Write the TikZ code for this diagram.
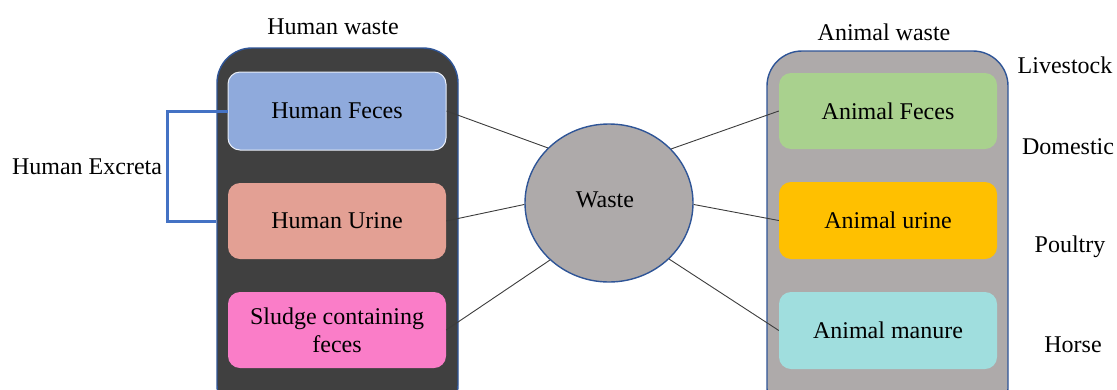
\documentclass[tikz,border=0pt]{standalone}
\usepackage{fontspec}
\setmainfont{Liberation Serif}
\usetikzlibrary{shapes.geometric}

\definecolor{frameblue}{RGB}{47,85,151}
\definecolor{bracketblue}{RGB}{68,114,196}
\definecolor{darkpanel}{RGB}{64,64,64}
\definecolor{greypanel}{RGB}{174,170,170}
\definecolor{feceblue}{RGB}{143,170,220}
\definecolor{urinesalmon}{RGB}{227,160,148}
\definecolor{sludgepink}{RGB}{250,125,200}
\definecolor{animalgreen}{RGB}{169,209,142}
\definecolor{animalamber}{RGB}{255,192,0}
\definecolor{animalteal}{RGB}{160,222,222}
\definecolor{linkgrey}{RGB}{60,60,60}

\tikzset{
  txt/.style={font=\fontsize{24}{28}\selectfont, text=black},
  panel/.style={draw=frameblue, line width=1.4pt, rounded corners=35pt, minimum width=241pt, minimum height=372pt, inner sep=0pt},
  item/.style={txt, rounded corners=12pt, minimum width=218pt, inner sep=0pt, align=center},
  link/.style={draw=linkgrey, line width=0.9pt},
  bracket/.style={draw=bracketblue, line width=3pt},
}

\begin{document}
\begin{tikzpicture}[x=1pt,y=-1pt]
\useasboundingbox (0,0) rectangle (1117,389);
\clip (0,0) rectangle (1117,389);

% group panels
\node[panel, fill=darkpanel] (hc) at (337.5,234) {};
\node[panel, fill=greypanel] (ac) at (887.5,237) {};

% human waste items
\node[item, fill=feceblue, draw=white!80!feceblue, line width=1pt, minimum height=78pt] (hf) at (337,111) {Human Feces};
\node[item, fill=urinesalmon, minimum height=76pt] (hu) at (337,221) {Human Urine};
\node[item, fill=sludgepink, minimum height=76pt] (sl) at (337,330) {Sludge containing\\feces};

% animal waste items
\node[item, fill=animalgreen, minimum height=76pt] (af) at (888,111) {Animal Feces};
\node[item, fill=animalamber, minimum height=77pt] (au) at (888,220.5) {Animal urine};
\node[item, fill=animalteal, minimum height=77pt] (am) at (888,330.5) {Animal manure};

% central node
\node[ellipse, draw=frameblue, line width=1.4pt, fill=greypanel, minimum width=168pt, minimum height=158pt, inner sep=0pt] (w) at (609,203) {};
\node[txt] (wl) at (605,200) {Waste};

% headings and side labels
\node[txt] (hwl) at (333,27) {Human waste};
\node[txt] (awl) at (884,32) {Animal waste};
\node[txt] (lv) at (1065,65) {Livestock};
\node[txt] (dm) at (1068,147) {Domestic};
\node[txt] (pt) at (1070,247) {Poultry};
\node[txt] (hs) at (1073,345) {Horse};
\node[txt] (he) at (87,167) {Human Excreta};

% excreta bracket
\coordinate (bt) at (167,111);
\coordinate (bb) at (167,221);
\draw[bracket] (hf.west) -- (bt) -- (bb) -- (hc.west |- bb);

% connectors
\draw[link] (hf.east) -- (w.138);
\draw[link] (hu.east) -- (w.181);
\draw[link] (sl.east) -- (w.224);
\draw[link] (w.41) -- (af.west);
\draw[link] (w.-1) -- (au.west);
\draw[link] (w.-43) -- (am.west);
\end{tikzpicture}
\end{document}
